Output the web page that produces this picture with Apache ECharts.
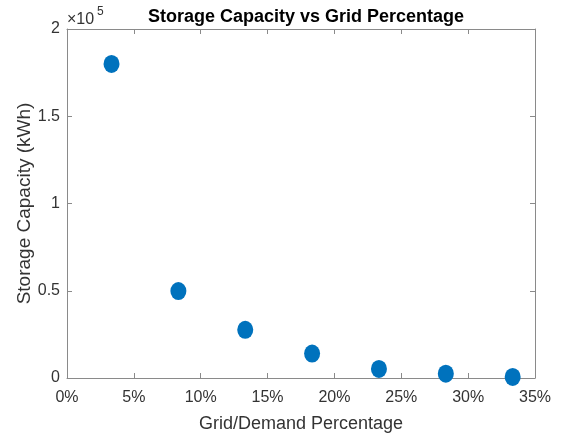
<!DOCTYPE html>
<html>
<head>
<meta charset="utf-8">
<script src="https://cdn.jsdelivr.net/npm/echarts@6/dist/echarts.min.js"></script>
<style>
  html, body { margin: 0; padding: 0; background: #fff; }
  #chart { width: 564px; height: 440px; }
</style>
</head>
<body>
<div id="chart"></div>
<script>
// Grid share of demand (%) and the storage capacity needed at each level (kWh)
const gridPercent = [3.33, 8.33, 13.33, 18.33, 23.33, 28.33, 33.33];
const storageKWh = [180000, 49800, 27600, 14000, 5200, 2500, 600];

const titleText = 'Storage Capacity vs Grid Percentage';
const xAxisTitle = 'Grid/Demand Percentage';
const yAxisTitle = 'Storage Capacity (kWh)';

const font = '"Liberation Sans", Arial, Helvetica, sans-serif';
const axisGrey = '#8a8a8a';
const textGrey = '#333333';

const points = gridPercent.map((x, i) => [x, storageKWh[i]]);

const baseAxis = {
  axisLine: { show: true, onZero: false, lineStyle: { color: axisGrey, width: 1 } },
  axisTick: { show: true, inside: true, length: 5, lineStyle: { color: axisGrey } },
  splitLine: { show: false }
};

const chart = echarts.init(document.getElementById('chart'), null, { renderer: 'canvas' });
chart.setOption({
  backgroundColor: '#ffffff',
  animation: false,
  title: {
    text: titleText,
    left: 301,
    top: 3,
    textAlign: 'center',
    textStyle: { fontFamily: font, fontWeight: 'bold', fontSize: 18, color: '#000' }
  },
  grid: { left: 67, right: 29, top: 29, bottom: 62, containLabel: false },
  xAxis: [
    Object.assign({}, baseAxis, {
      type: 'value', min: 0, max: 35, interval: 5, position: 'bottom',
      name: xAxisTitle, nameLocation: 'middle', nameGap: 37,
      nameTextStyle: { fontFamily: font, fontSize: 18, color: textGrey },
      axisLabel: { formatter: '{value}%', margin: 12, fontFamily: font, fontSize: 16, color: textGrey }
    }),
    Object.assign({}, baseAxis, {
      type: 'value', min: 0, max: 35, interval: 5, position: 'top',
      axisLabel: { show: false }
    })
  ],
  yAxis: [
    Object.assign({}, baseAxis, {
      type: 'value', min: 0, max: 200000, interval: 50000, position: 'left',
      name: yAxisTitle, nameLocation: 'middle', nameGap: 33, nameMoveOverlap: false,
      nameTextStyle: { fontFamily: font, fontSize: 19, color: textGrey },
      axisLabel: {
        formatter: v => String(v / 100000),
        margin: 7, fontFamily: font, fontSize: 16, color: textGrey
      }
    }),
    Object.assign({}, baseAxis, {
      type: 'value', min: 0, max: 200000, interval: 50000, position: 'right',
      axisLabel: { show: false }
    })
  ],
  graphic: [
    {
      type: 'text', left: 67, top: 12,
      style: { text: '×10', font: '16px ' + font, fill: textGrey }
    },
    {
      type: 'text', left: 97, top: 6,
      style: { text: '5', font: '12px ' + font, fill: textGrey }
    }
  ],
  series: [{
    type: 'scatter',
    xAxisIndex: 0, yAxisIndex: 0,
    data: points,
    symbol: 'circle',
    symbolSize: [16, 18],
    itemStyle: { color: '#0072BD', opacity: 1 }
  }]
});
</script>
</body>
</html>
